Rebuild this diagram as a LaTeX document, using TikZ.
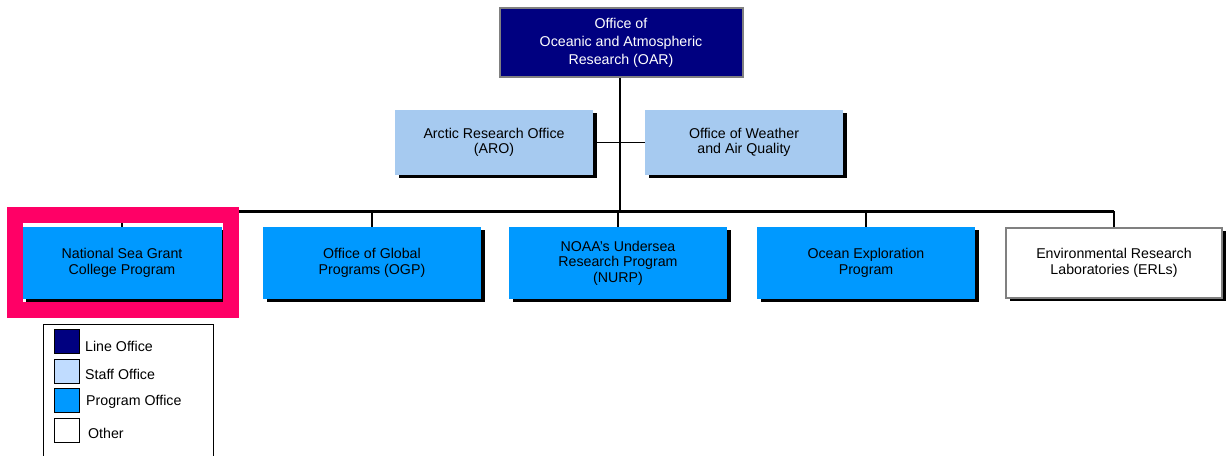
\documentclass[tikz,border=0pt]{standalone}
\usepackage{fontspec}
\setmainfont{Liberation Sans}
\usetikzlibrary{shadows}
\definecolor{lineoff}{HTML}{000080}
\definecolor{staffoff}{HTML}{A6CAF0}
\definecolor{staffleg}{HTML}{C0DCFF}
\definecolor{progoff}{HTML}{0099FF}
\definecolor{hilite}{HTML}{FF0066}
\definecolor{bordergray}{HTML}{808080}
\begin{document}
\begin{tikzpicture}[x=1pt,y=-1pt,
  font=\fontsize{14.2}{15.5}\selectfont,
  orgbox/.style={inner sep=0pt, align=center, minimum width=#1},
  shad/.style={drop shadow={shadow xshift=4pt, shadow yshift=-3pt, fill=black, opacity=1}},
  linebox/.style={orgbox=243pt, minimum height=69pt, fill=lineoff, draw=bordergray, line width=2pt, text=white, font=\fontsize{14.2}{18}\selectfont},
  staffbox/.style={orgbox=198pt, minimum height=65pt, fill=staffoff, shad},
  progbox/.style={orgbox=218pt, minimum height=72pt, fill=progoff, shad},
  otherbox/.style={orgbox=216pt, minimum height=70pt, fill=white, draw=bordergray, line width=1.5pt, shad},
  conn/.style={line width=1.5pt},
  busline/.style={line width=3pt},
  swatch/.style={draw=black, line width=0.8pt, minimum width=25pt, minimum height=24pt, inner sep=0pt},
  legtext/.style={anchor=west, inner sep=0pt}
]
\useasboundingbox (0,0) rectangle (1228,455);

% top
\node[linebox] (oar) at (621,42.5) {Office of\\Oceanic and Atmospheric\\Research (OAR)};

% staff
\node[staffbox] (aro) at (494,142.5) {Arctic Research Office\\(ARO)};
\node[staffbox] (owaq) at (744,142.5) {Office of Weather\\and Air Quality};

% bus
\coordinate (busL) at (125,211);
\coordinate (busR) at (1114,211);
\coordinate (busC) at (620,211);

\draw[conn] (aro.east) -- (owaq.west);
\draw[conn] (oar.south -| busC) -- (busC);
\draw[busline] (busL) -- (busR);

% program boxes
\node[progbox, minimum width=200pt] (nsg) at (122,263) {National Sea Grant\\College Program};
\node[progbox] (ogp) at (372,263) {Office of Global\\Programs (OGP)};
\node[progbox] (nurp) at (618,263) {NOAA's Undersea\\Research Program\\(NURP)};
\node[progbox] (oep) at (866,263) {Ocean Exploration\\Program};
\node[otherbox] (erl) at (1114,263) {Environmental Research\\Laboratories (ERLs)};

\foreach \b in {nsg,ogp,nurp,oep,erl}{
  \draw[conn] (\b.north) -- (\b.north |- busL);
}

% highlight frame
\draw[hilite, line width=16pt] (15,215) rectangle (231,310);

% legend
\node[draw=black, line width=0.8pt, minimum width=170pt, minimum height=140pt, inner sep=0pt, anchor=north west] (legend) at (43,324) {};
\node[swatch, fill=lineoff] (sw1) at (66.5,341) {};
\node[swatch, fill=staffleg] (sw2) at (66.5,371) {};
\node[swatch, fill=progoff] (sw3) at (66.5,400) {};
\node[swatch, fill=white] (sw4) at (66.5,430) {};
\node[legtext] (l1) at (85,346) {Line Office};
\node[legtext] (l2) at (85,374) {Staff Office};
\node[legtext] (l3) at (86,402) {Program Office};
\node[legtext] (l4) at (88,433) {Other};
\end{tikzpicture}
\end{document}
